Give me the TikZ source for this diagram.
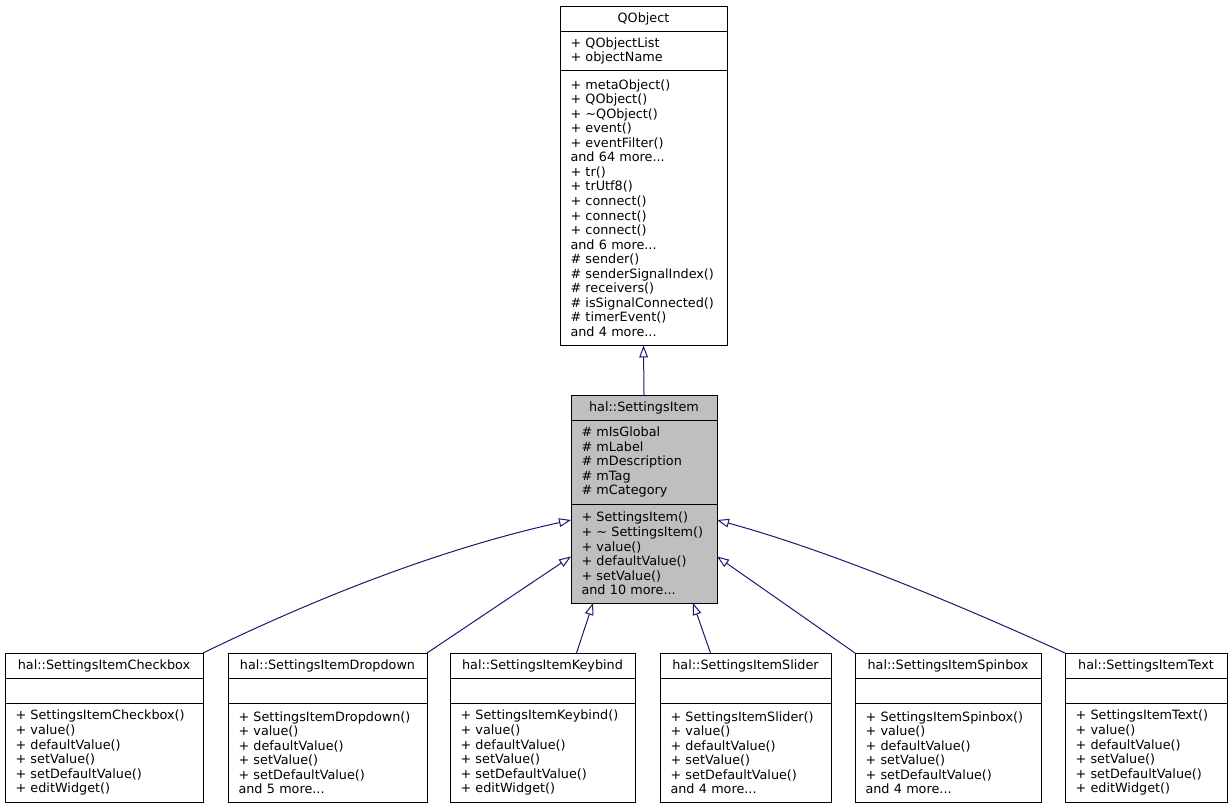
\documentclass[tikz,border=0pt]{standalone}
\usepackage{fontspec}
\setmainfont{DejaVu Sans}
\usetikzlibrary{arrows.meta, positioning, calc}
\definecolor{edgeblue}{RGB}{25,25,112}
\definecolor{basegray}{RGB}{191,191,191}
\tikzset{
  cls/.style = {draw, line width=0.75pt, inner ysep=0pt, outer sep=0pt,
    font=\fontsize{9.6}{10.9}\selectfont},
  clsname/.style = {cls, inner xsep=0pt, anchor=north west, minimum height=18.75pt,
    minimum width=#1, align=center},
  clspart/.style = {cls, inner xsep=7.875pt, text width=#1, align=left},
  inherit/.style = {draw=edgeblue, line width=0.75pt,
    -{Triangle[open, length=9pt, width=6.5pt]}}
}

\begin{document}
\begin{tikzpicture}[x=0.75pt, y=-0.75pt]
  \useasboundingbox (0,0) rectangle (1231,808);

  % QObject
  \node[clsname=125.25pt] (qobj) at (560,6) {QObject};
  \node[clspart=109.5pt, minimum height=29.6pt, below=0pt of qobj] (qobj-a)
    {+ QObjectList\\+ objectName};
  \node[clspart=109.5pt, minimum height=206.25pt, below=0pt of qobj-a] (qobj-m)
    {+ metaObject()\\+ QObject()\\+ \textasciitilde QObject()\\+ event()\\+ eventFilter()\\and 64 more...\\
     + tr()\\+ trUtf8()\\+ connect()\\+ connect()\\+ connect()\\and 6 more...\\
     \# sender()\\\# senderSignalIndex()\\\# receivers()\\\# isSignalConnected()\\\# timerEvent()\\and 4 more...};

  % hal::SettingsItem
  \node[clsname=109.5pt, fill=basegray] (item) at (571,395) {hal::SettingsItem};
  \node[clspart=93.75pt, fill=basegray, minimum height=63pt, below=0pt of item] (item-a)
    {\# mIsGlobal\\\# mLabel\\\# mDescription\\\# mTag\\\# mCategory};
  \node[clspart=93.75pt, fill=basegray, minimum height=74.25pt, below=0pt of item-a] (item-m)
    {+ SettingsItem()\\+ \textasciitilde{} SettingsItem()\\+ value()\\+ defaultValue()\\+ setValue()\\and 10 more...};

  % Checkbox
  \node[clsname=148.5pt] (chk) at (5,653) {hal::SettingsItemCheckbox};
  \node[clspart=132.75pt, minimum height=18.75pt, below=0pt of chk] (chk-a) {};
  \node[clspart=132.75pt, minimum height=74.6pt, below=0pt of chk-a] (chk-m)
    {+ SettingsItemCheckbox()\\+ value()\\+ defaultValue()\\+ setValue()\\+ setDefaultValue()\\+ editWidget()};

  % Dropdown
  \node[clsname=149.25pt] (drop) at (228,653) {hal::SettingsItemDropdown};
  \node[clspart=133.5pt, minimum height=18.75pt, below=0pt of drop] (drop-a) {};
  \node[clspart=133.5pt, minimum height=74.6pt, below=0pt of drop-a] (drop-m)
    {+ SettingsItemDropdown()\\+ value()\\+ defaultValue()\\+ setValue()\\+ setDefaultValue()\\and 5 more...};

  % Keybind
  \node[clsname=138.75pt] (keyb) at (450,653) {hal::SettingsItemKeybind};
  \node[clspart=123pt, minimum height=18.75pt, below=0pt of keyb] (keyb-a) {};
  \node[clspart=123pt, minimum height=74.6pt, below=0pt of keyb-a] (keyb-m)
    {+ SettingsItemKeybind()\\+ value()\\+ defaultValue()\\+ setValue()\\+ setDefaultValue()\\+ editWidget()};

  % Slider
  \node[clsname=128.25pt] (slid) at (660,653) {hal::SettingsItemSlider};
  \node[clspart=112.5pt, minimum height=18.75pt, below=0pt of slid] (slid-a) {};
  \node[clspart=112.5pt, minimum height=74.6pt, below=0pt of slid-a] (slid-m)
    {+ SettingsItemSlider()\\+ value()\\+ defaultValue()\\+ setValue()\\+ setDefaultValue()\\and 4 more...};

  % Spinbox
  \node[clsname=139.5pt] (spin) at (855,653) {hal::SettingsItemSpinbox};
  \node[clspart=123.75pt, minimum height=18.75pt, below=0pt of spin] (spin-a) {};
  \node[clspart=123.75pt, minimum height=74.6pt, below=0pt of spin-a] (spin-m)
    {+ SettingsItemSpinbox()\\+ value()\\+ defaultValue()\\+ setValue()\\+ setDefaultValue()\\and 4 more...};

  % Text
  \node[clsname=121.5pt] (txt) at (1065,653) {hal::SettingsItemText};
  \node[clspart=105.75pt, minimum height=18.75pt, below=0pt of txt] (txt-a) {};
  \node[clspart=105.75pt, minimum height=74.6pt, below=0pt of txt-a] (txt-m)
    {+ SettingsItemText()\\+ value()\\+ defaultValue()\\+ setValue()\\+ setDefaultValue()\\+ editWidget()};

  % inheritance
  \draw[inherit] (item.north) -- (qobj-m.south);
  \draw[inherit] (chk.north east) .. controls +(117,-57) and +(-127,28) .. ($(item-m.north west)+(0,16)$);
  \draw[inherit] (drop.north east) -- ($(item-m.west)+(0,3)$);
  \draw[inherit] ($(keyb.north)+(34,0)$) -- ($(item-m.south)+(-51,0)$);
  \draw[inherit] ($(slid.north)+(-35,0)$) -- ($(item-m.south)+(49,0)$);
  \draw[inherit] (spin.north west) -- ($(item-m.east)+(0,3)$);
  \draw[inherit] (txt.north west) .. controls +(-110,-50) and +(110,30) .. ($(item-m.north east)+(0,16)$);

\end{tikzpicture}
\end{document}
